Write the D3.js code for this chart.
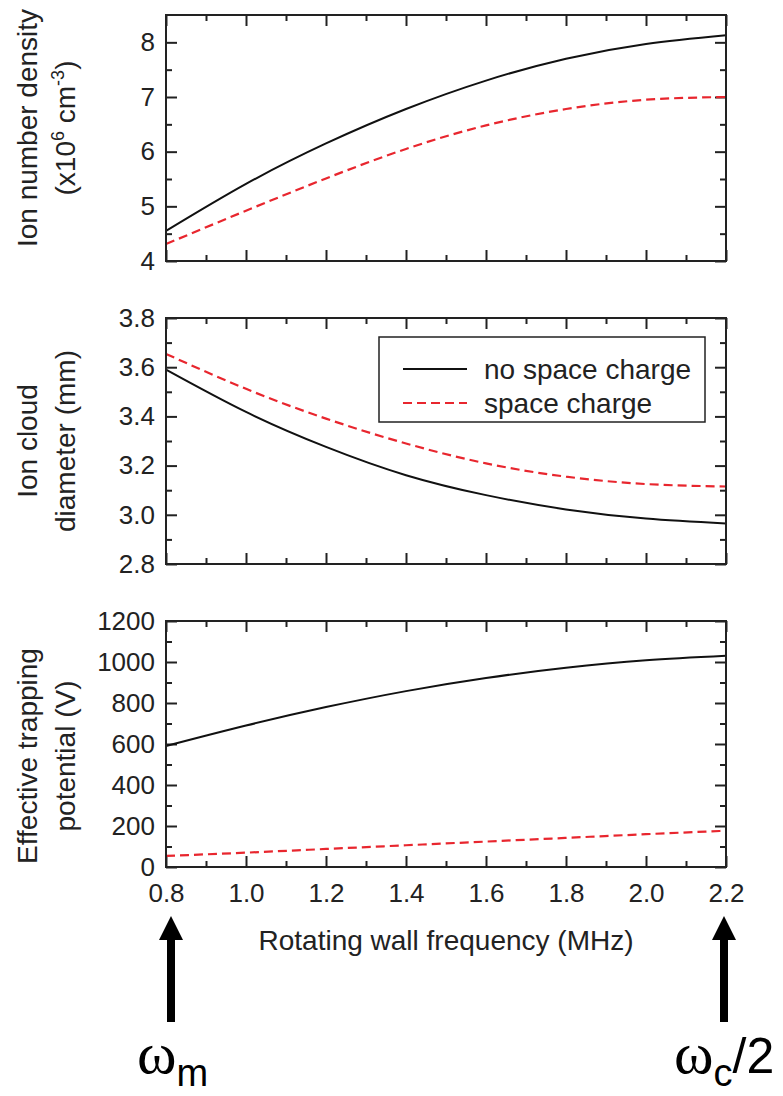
<!DOCTYPE html>
<html>
<head>
<meta charset="utf-8">
<script src="https://cdn.jsdelivr.net/npm/d3@7"></script>
<style>
  body { margin: 0; background: #fff; }
  svg { display: block; }
  text { font-family: "Liberation Sans", Arial, sans-serif; fill: #222; }
</style>
</head>
<body>
<script>
// values
const freq = [0.8, 1.0, 1.2, 1.4, 1.6, 1.8, 2.0, 2.2];
const densityNoSC = [4.55, 5.41, 6.15, 6.78, 7.30, 7.70, 7.97, 8.13];
const densitySC = [4.31, 4.92, 5.51, 6.05, 6.48, 6.78, 6.95, 7.0];
const diameterNoSC = [3.59, 3.418, 3.276, 3.161, 3.08, 3.022, 2.985, 2.965];
const diameterSC = [3.654, 3.512, 3.391, 3.29, 3.209, 3.155, 3.125, 3.115];
const potentialNoSC = [590, 690, 780, 858, 922, 972, 1008, 1030];
const potentialSC = [54, 70, 88, 106, 124, 142, 160, 177];

const xTicks = [0.8, 1.0, 1.2, 1.4, 1.6, 1.8, 2.0, 2.2];
const xMinor = [0.9, 1.1, 1.3, 1.5, 1.7, 1.9, 2.1];
const legendLabels = ["no space charge", "space charge"];

const width = 783, height = 1096;
const red = "#e8262e";

let svg = d3.select("body").append("svg")
    .attr("width", width)
    .attr("height", height);

let x = d3.scaleLinear().domain([0.8, 2.2]).range([166, 726]);

// one panel = frame + inward ticks on four sides + two curves
function drawPanel(top, bottom, domain, major, minor, fmt, series, showX) {
    let y = d3.scaleLinear().domain(domain).range([bottom, top]);
    let g = svg.append("g");

    // left axis with labels
    g.append("g")
        .attr("transform", `translate(${x.range()[0]},0)`)
        .call(d3.axisLeft(y).tickValues(major).tickFormat(fmt).tickSize(-11).tickPadding(11))
        .call(a => a.select(".domain").remove());
    g.append("g")
        .attr("transform", `translate(${x.range()[0]},0)`)
        .call(d3.axisLeft(y).tickValues(minor).tickFormat("").tickSize(-6))
        .call(a => a.select(".domain").remove());
    // right axis mirror
    g.append("g")
        .attr("transform", `translate(${x.range()[1]},0)`)
        .call(d3.axisRight(y).tickValues(major).tickFormat("").tickSize(-11))
        .call(a => a.select(".domain").remove());
    g.append("g")
        .attr("transform", `translate(${x.range()[1]},0)`)
        .call(d3.axisRight(y).tickValues(minor).tickFormat("").tickSize(-6))
        .call(a => a.select(".domain").remove());
    // bottom axis
    g.append("g")
        .attr("transform", `translate(0,${bottom})`)
        .call(d3.axisBottom(x).tickValues(xTicks).tickFormat(showX ? d3.format(".1f") : "").tickSize(-11).tickPadding(17))
        .call(a => a.select(".domain").remove());
    g.append("g")
        .attr("transform", `translate(0,${bottom})`)
        .call(d3.axisBottom(x).tickValues(xMinor).tickFormat("").tickSize(-6))
        .call(a => a.select(".domain").remove());
    // top axis
    g.append("g")
        .attr("transform", `translate(0,${top})`)
        .call(d3.axisTop(x).tickValues(xTicks).tickFormat("").tickSize(-11))
        .call(a => a.select(".domain").remove());
    g.append("g")
        .attr("transform", `translate(0,${top})`)
        .call(d3.axisTop(x).tickValues(xMinor).tickFormat("").tickSize(-6))
        .call(a => a.select(".domain").remove());

    g.selectAll(".tick line").attr("stroke", "#222").attr("stroke-width", 2);
    g.selectAll(".tick text").style("font-size", "26px").attr("fill", "#222");

    let line = d3.line()
        .x((d, i) => x(freq[i]))
        .y(d => y(d))
        .curve(d3.curveNatural);

    g.append("path")
        .datum(series[0])
        .attr("d", line)
        .attr("fill", "none")
        .attr("stroke", "#111")
        .attr("stroke-width", 2);

    g.append("path")
        .datum(series[1])
        .attr("d", line)
        .attr("fill", "none")
        .attr("stroke", red)
        .attr("stroke-width", 2.2)
        .attr("stroke-dasharray", "9,5");

    g.append("rect")
        .attr("x", x.range()[0])
        .attr("y", top)
        .attr("width", x.range()[1] - x.range()[0])
        .attr("height", bottom - top)
        .attr("fill", "none")
        .attr("stroke", "#222")
        .attr("stroke-width", 2);

    return y;
}

drawPanel(15, 261, [4, 8.5], [4, 5, 6, 7, 8], [4.5, 5.5, 6.5, 7.5],
    d3.format("d"), [densityNoSC, densitySC], false);
drawPanel(318, 564, [2.8, 3.8], d3.range(2.8, 3.81, 0.2), d3.range(2.9, 3.8, 0.2),
    d3.format(".1f"), [diameterNoSC, diameterSC], false);
drawPanel(621, 867, [0, 1200], d3.range(0, 1201, 200), d3.range(100, 1200, 200),
    d3.format("d"), [potentialNoSC, potentialSC], true);

// y titles (two lines each)
function yTitle(cy, line1, line2) {
    svg.append("text")
        .attr("transform", `translate(37,${cy}) rotate(-90)`)
        .attr("text-anchor", "middle")
        .style("font-size", "28px")
        .text(line1);
    let t2 = svg.append("text")
        .attr("transform", `translate(75,${cy}) rotate(-90)`)
        .attr("text-anchor", "middle")
        .style("font-size", "28px");
    line2(t2);
}

yTitle(128, "Ion number density", t => {
    t.append("tspan").text("(x10");
    t.append("tspan").attr("dy", -11).style("font-size", "18px").text("6");
    t.append("tspan").attr("dy", 11).text(" cm");
    t.append("tspan").attr("dy", -11).style("font-size", "18px").text("-3");
    t.append("tspan").attr("dy", 11).text(")");
});
yTitle(441, "Ion cloud", t => t.text("diameter (mm)"));
yTitle(756, "Effective trapping", t => t.text("potential (V)"));

// x title
svg.append("text")
    .attr("x", (x.range()[0] + x.range()[1]) / 2)
    .attr("y", 950)
    .attr("text-anchor", "middle")
    .style("font-size", "28px")
    .text("Rotating wall frequency (MHz)");

// legend
let leg = svg.append("g");
leg.append("rect")
    .attr("x", 379).attr("y", 337)
    .attr("width", 326).attr("height", 85)
    .attr("fill", "#fff")
    .attr("stroke", "#222")
    .attr("stroke-width", 1.5);
legendLabels.forEach((label, i) => {
    let ly = 369 + i * 34;
    leg.append("line")
        .attr("x1", 403).attr("x2", 467)
        .attr("y1", ly).attr("y2", ly)
        .attr("stroke", i == 0 ? "#111" : red)
        .attr("stroke-width", i == 0 ? 2 : 2.2)
        .attr("stroke-dasharray", i == 0 ? null : "9,5");
    leg.append("text")
        .attr("x", 484)
        .attr("y", ly + 10)
        .style("font-size", "28px")
        .text(label);
});

// arrows marking omega_m and omega_c/2
[0.8, 2.2].forEach(f => {
    let ax = x(f) + (f < 1.5 ? 5 : -2);
    svg.append("rect")
        .attr("x", ax - 4).attr("y", 936)
        .attr("width", 8).attr("height", 86)
        .attr("fill", "#000");
    svg.append("path")
        .attr("d", `M${ax},916 L${ax - 12},940 L${ax + 12},940 Z`)
        .attr("fill", "#000");
});

let wm = svg.append("text")
    .attr("x", 137).attr("y", 1073)
    .style("fill", "#000");
wm.append("tspan").style("font-family", "'Liberation Serif', 'Times New Roman', serif").style("font-size", "60px").text("ω");
wm.append("tspan").attr("dy", 13).style("font-size", "38px").text("m");

let wc = svg.append("text")
    .attr("x", 674).attr("y", 1073)
    .style("fill", "#000");
wc.append("tspan").style("font-family", "'Liberation Serif', 'Times New Roman', serif").style("font-size", "60px").text("ω");
wc.append("tspan").attr("dy", 13).style("font-size", "38px").text("c");
wc.append("tspan").attr("dy", -13).style("font-size", "50px").text("/2");
</script>
</body>
</html>
